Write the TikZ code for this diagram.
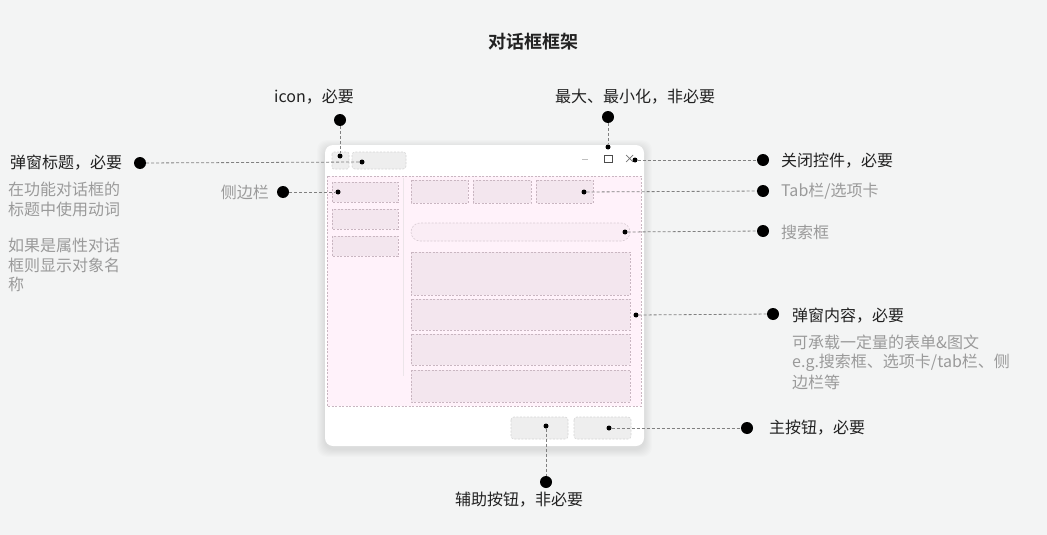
\documentclass[tikz,border=0pt]{standalone}
\usepackage{fontspec}
\setmainfont{Noto Sans CJK SC}[BoldFont={Noto Sans CJK SC Bold}]
\definecolor{bg}{HTML}{F3F4F4}
\definecolor{pinkbg}{HTML}{FFF2FA}
\definecolor{pinkbox}{HTML}{F3E6EE}
\definecolor{pinkline}{HTML}{C9B6C1}
\definecolor{graybox}{HTML}{EEEEEE}
\definecolor{grayline}{HTML}{D6D6D6}
\definecolor{conncol}{HTML}{808080}
\definecolor{txt}{HTML}{222222}
\definecolor{gtxt}{HTML}{9A9A9A}
\tikzset{
  bigdot/.style={circle,fill=black,inner sep=0pt,minimum size=12pt},
  smalldot/.style={circle,fill=black,inner sep=0pt,minimum size=5pt},
  conn/.style={draw=conncol,line width=0.8pt,dash pattern=on 3pt off 2pt},
  lbl/.style={text=txt,inner sep=0pt,font=\fontsize{16}{20}\selectfont},
  glbl/.style={text=gtxt,inner sep=0pt,font=\fontsize{16}{20}\selectfont},
  pbox/.style={fill=pinkbox,draw=pinkline,line width=0.6pt,dash pattern=on 2pt off 1.5pt},
  gbox/.style={fill=graybox,draw=grayline,line width=0.6pt,dash pattern=on 2pt off 1.5pt,rounded corners=3pt},
}
\begin{document}
\begin{tikzpicture}[x=1pt,y=-1pt]
\useasboundingbox (0,0) rectangle (1047,535);
\fill[bg] (0,0) rectangle (1047,535);
% shadow
\foreach \i in {1,...,8}{
  \fill[black,opacity=0.012,rounded corners=10pt] (325-\i,145-\i+3) rectangle (644+\i,446+\i+3);
}
% dialog
\fill[white,rounded corners=8pt] (325,145) rectangle (644,446);
% content area
\filldraw[fill=pinkbg,draw=pinkline,line width=0.6pt,dash pattern=on 2pt off 1.5pt] (327,176) rectangle (641,406);
\draw[pinkline!35,line width=0.6pt] (403,178) -- (403,376);
% sidebar
\draw[pbox] (332,182) rectangle (398,202);
\draw[pbox] (332,209) rectangle (398,229);
\draw[pbox] (332,236) rectangle (398,256);
% tabs
\draw[pbox] (411,180) rectangle (468,203);
\draw[pbox] (473,180) rectangle (531,203);
\draw[pbox] (536,180) rectangle (593,203);
% search
\draw[fill=pinkbg!60!pinkbox,draw=pinkline!70,line width=0.6pt,dash pattern=on 2pt off 1.5pt,rounded corners=9pt] (411,223) rectangle (630,241);
% content blocks
\draw[pbox] (411,252) rectangle (630,295);
\draw[pbox] (411,299) rectangle (630,330);
\draw[pbox] (411,334) rectangle (630,365);
\draw[pbox] (411,370) rectangle (630,402);
% title bar
\draw[gbox,rounded corners=2pt] (332,152) rectangle (349,169);
\draw[gbox] (352,152) rectangle (406,169);
\draw[line width=0.7pt,draw=black!25] (582,159) -- (588,159);
\draw[line width=0.7pt,draw=black!70] (604,155) rectangle (612,162);
\draw[line width=0.7pt,draw=black!55] (626,155) -- (633,162) (626,162) -- (633,155);
% buttons
\draw[gbox] (511,417) rectangle (568,439);
\draw[gbox] (574,417) rectangle (631,439);
% small dots
\node[smalldot] (dIcon) at (340,156) {};
\node[smalldot] (dTitle) at (362,162) {};
\node[smalldot] (dMax) at (608,147) {};
\node[smalldot] (dClose) at (635,160) {};
\node[smalldot] (dSide) at (338,192) {};
\node[smalldot] (dTab) at (584,192) {};
\node[smalldot] (dSearch) at (625,232) {};
\node[smalldot] (dContent) at (636,315) {};
\node[smalldot] (dBtn2) at (546,426) {};
\node[smalldot] (dBtn1) at (609,428) {};
% big dots
\node[bigdot] (bIcon) at (340,120) {};
\node[bigdot] (bMax) at (608,117) {};
\node[bigdot] (bTitle) at (140,163) {};
\node[bigdot] (bSide) at (283,192) {};
\node[bigdot] (bClose) at (763,160) {};
\node[bigdot] (bTab) at (763,191) {};
\node[bigdot] (bSearch) at (763,231) {};
\node[bigdot] (bContent) at (773,314) {};
\node[bigdot] (bBtn1) at (747,428) {};
\node[bigdot] (bBtn2) at (546,482) {};
% connectors
\draw[conn] (bIcon) -- (dIcon);
\draw[conn] (bMax) -- (dMax);
\draw[conn] (bTitle) -- (dTitle);
\draw[conn] (bSide) -- (dSide);
\draw[conn] (dClose) -- (bClose);
\draw[conn] (dTab) -- (bTab);
\draw[conn] (dSearch) -- (bSearch);
\draw[conn] (dContent) -- (bContent);
\draw[conn] (dBtn1) -- (bBtn1);
\draw[conn] (dBtn2) -- (bBtn2);
% labels
\node[text=txt,inner sep=0pt,font=\fontsize{18}{22}\selectfont\bfseries] (title) at (533,42) {对话框框架};
\node[lbl] (tIcon) at (314,97) {icon，必要};
\node[lbl] (tMax) at (635,97) {最大、最小化，非必要};
\node[lbl,anchor=west] (tTitle) at (10,163) {弹窗标题，必要};
\node[glbl,anchor=west] (g1) at (8,189) {在功能对话框的};
\node[glbl,anchor=west] (g2) at (8,209) {标题中使用动词};
\node[glbl,anchor=west] (g3) at (8,245) {如果是属性对话};
\node[glbl,anchor=west] (g4) at (8,265) {框则显示对象名};
\node[glbl,anchor=west] (g5) at (8,284) {称};
\node[glbl,anchor=east] (tSide) at (269,192) {侧边栏};
\node[lbl,anchor=west] (tClose) at (781,161) {关闭控件，必要};
\node[glbl,anchor=west] (tTab) at (781,191) {Tab栏/选项卡};
\node[glbl,anchor=west] (tSearch) at (781,232) {搜索框};
\node[lbl,anchor=west] (tContent) at (792,316) {弹窗内容，必要};
\node[glbl,anchor=west] (c1) at (792,342) {可承载一定量的表单\&图文};
\node[glbl,anchor=west] (c2) at (792,363) {e.g.搜索框、选项卡/tab栏、侧};
\node[glbl,anchor=west] (c3) at (792,382) {边栏等};
\node[lbl,anchor=west] (tBtn1) at (769,428) {主按钮，必要};
\node[lbl] (tBtn2) at (519,500) {辅助按钮，非必要};
\end{tikzpicture}
\end{document}
